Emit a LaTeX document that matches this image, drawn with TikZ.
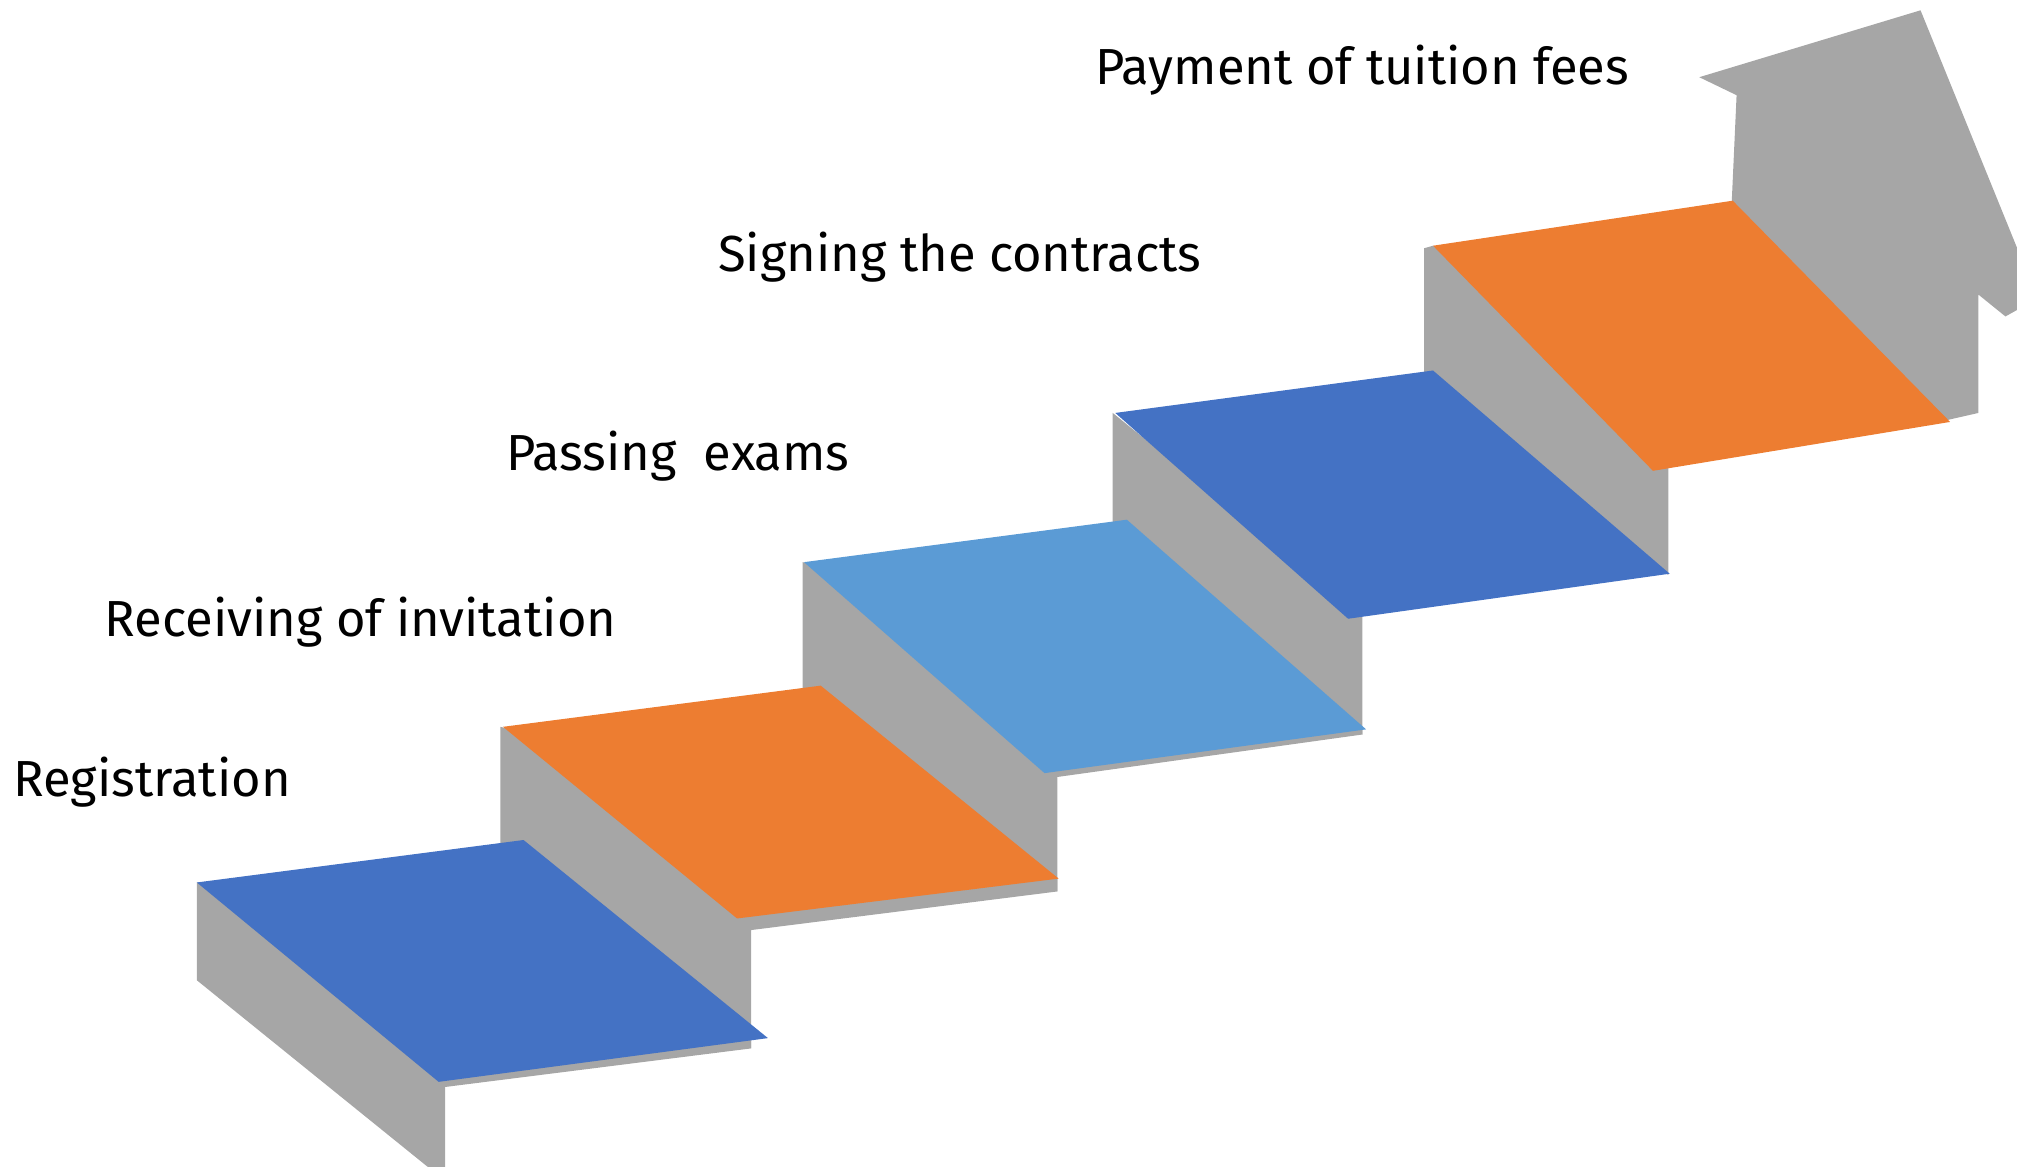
\documentclass[tikz,border=0pt]{standalone}
\usepackage{fontspec}
\setmainfont{Fira Sans}
\usepackage{tikz}
\usepackage{xcolor}
\definecolor{stepblue}{HTML}{4472C4}
\definecolor{steporange}{HTML}{ED7D31}
\definecolor{steplight}{HTML}{5B9BD5}
\definecolor{stepgray}{HTML}{A6A6A6}
\begin{document}
\begin{tikzpicture}[x=0.5pt, y=-0.5pt,
		riser/.style={fill=stepgray, draw=none},
		tread/.style={draw=none},
		steptext/.style={anchor=base west, inner sep=0pt, font=\fontsize{19.7}{23}\selectfont}]
				\useasboundingbox (0,0) rectangle (1568,907.2);
				\clip (0,0) rectangle (1568,907.2);
				\fill[riser] (1346,162) -- (1350,74) -- (1321,60) -- (1493,8) -- (1584,232) -- (1559,246) -- (1538,229) -- (1538,321) -- (1516,326) -- (1500,330) -- cycle;
				\fill[riser] (1114,191) -- (1107,193) -- (1107,300) -- (1297,447) -- (1297,364) -- (1250,250) -- cycle;
				\fill[tread, steporange] (1114,191) -- (1347,156) -- (1516,328) -- (1285,366) -- cycle;
				\fill[riser] (865,321) -- (865,431) -- (1059,571) -- (1059,478) -- cycle;
				\fill[tread, stepblue] (867,321) -- (1114,288) -- (1298,446) -- (1048,481) -- cycle;
				\fill[riser] (624,437) -- (624,547) -- (822,693) -- (822,604) -- (1059,571) -- (1059,566) -- cycle;
				\fill[tread, steplight] (625,437) -- (876,404) -- (1062,567) -- (812,601) -- cycle;
				\fill[riser] (389,565) -- (389,686) -- (584,815) -- (584,723) -- (822,693) -- (822,683) -- cycle;
				\fill[tread, steporange] (391,565) -- (638,533) -- (823,683) -- (573,714) -- cycle;
				\fill[riser] (153,686) -- (153,762) -- (346,918) -- (346,845) -- (584,815) -- (584,807) -- cycle;
				\fill[tread, stepblue] (153,686) -- (407,653) -- (597,807) -- (341,841) -- cycle;
				\node[steptext] (pay) at (851,66) {Payment of tuition fees};
				\node[steptext] (sign) at (558,211) {Signing the contracts};
				\node[steptext] (pass) at (393,366) {Passing\ \ exams};
				\node[steptext] (recv) at (81,495) {Receiving of invitation};
				\node[steptext] (reg) at (10,619) {Registration};
\end{tikzpicture}
\end{document}
